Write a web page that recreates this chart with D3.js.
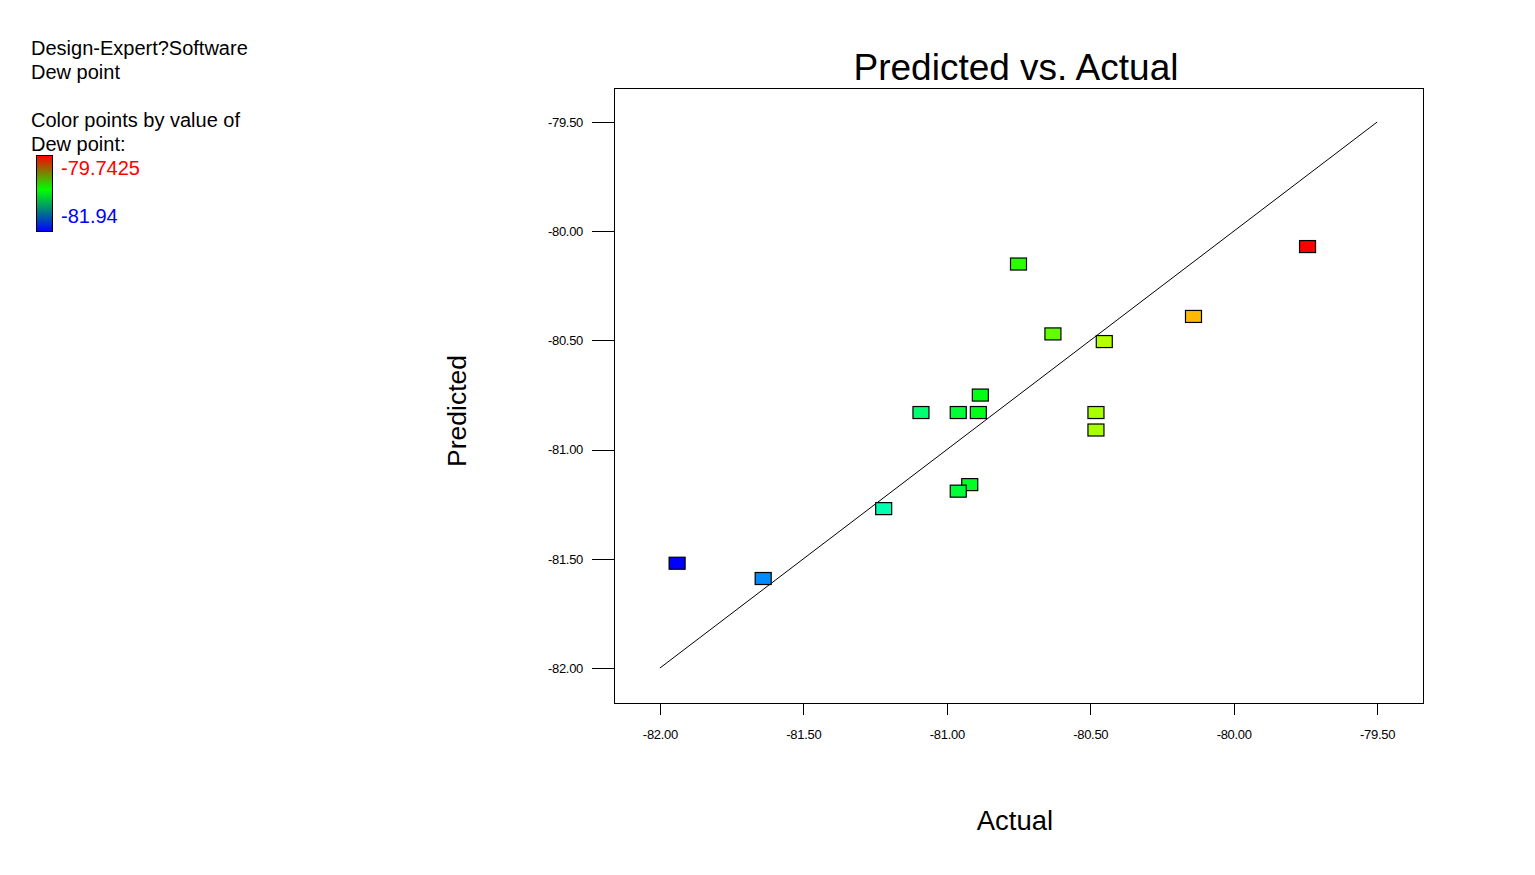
<!DOCTYPE html>
<html>
<head>
<meta charset="utf-8">
<script src="https://cdn.jsdelivr.net/npm/d3@7"></script>
<style>
  body { margin: 0; background: #fff; }
  svg { display: block; font-family: Arial, "Liberation Sans", sans-serif; }
</style>
</head>
<body>
<svg id="chart" width="1535" height="875"></svg>
<script>
const actualVals = [-81.94, -81.64, -81.22, -81.09, -80.96, -80.89, -80.883, -80.92, -80.96, -80.75, -80.63, -80.451, -80.48, -80.48, -80.14, -79.7425];
const predictedVals = [-81.52, -81.59, -81.27, -80.83, -80.83, -80.83, -80.75, -81.16, -81.19, -80.15, -80.47, -80.505, -80.83, -80.91, -80.39, -80.07];
const tickVals = [-82.0, -81.5, -81.0, -80.5, -80.0, -79.5];
const colorMin = -81.94, colorMax = -79.7425;
const legendLines = ["Design-Expert?Software", "Dew point", "", "Color points by value of", "Dew point:"];

const svg = d3.select("#chart");
const L = 614, R = 1423, T = 88, B = 703;
const x = d3.scaleLinear().domain([-82.16, -79.34]).range([L, R]);
const y = d3.scaleLinear().domain([-82.16, -79.344]).range([B, T]);
const fmt = d => d.toFixed(2);

const color = v => {
  const t = (v - colorMin) / (colorMax - colorMin);
  return d3.hsl(240 * (1 - t), 1, 0.5).formatHex();
};

// Title
svg.append("text").attr("x", 1016).attr("y", 80).attr("text-anchor", "middle")
  .attr("font-size", 37).text("Predicted vs. Actual");

// Frame
svg.append("rect").attr("x", L).attr("y", T).attr("width", R - L).attr("height", B - T)
  .attr("fill", "none").attr("stroke", "#000").attr("stroke-width", 1).attr("shape-rendering", "crispEdges");

// Axes
const xAxis = d3.axisBottom(x).tickValues(tickVals).tickFormat(fmt).tickSize(12).tickSizeOuter(0).tickPadding(15);
const gx = svg.append("g").attr("transform", `translate(0,${B})`).call(xAxis);
gx.select(".domain").remove();
gx.selectAll("text").attr("font-size", 13).attr("letter-spacing", -0.3).attr("font-family", "Arial, 'Liberation Sans', sans-serif").attr("fill", "#000");
gx.selectAll("line").attr("shape-rendering", "crispEdges");

const yAxis = d3.axisLeft(y).tickValues(tickVals).tickFormat(fmt).tickSize(22).tickSizeOuter(0).tickPadding(9);
const gy = svg.append("g").attr("transform", `translate(${L},0)`).call(yAxis);
gy.select(".domain").remove();
gy.selectAll("text").attr("font-size", 13).attr("letter-spacing", -0.3).attr("font-family", "Arial, 'Liberation Sans', sans-serif").attr("fill", "#000");
gy.selectAll("line").attr("shape-rendering", "crispEdges");

// Axis titles
svg.append("text").attr("x", 1015).attr("y", 830).attr("text-anchor", "middle")
  .attr("font-size", 27.5).text("Actual");
svg.append("text").attr("transform", "translate(466,411) rotate(-90)").attr("text-anchor", "middle")
  .attr("font-size", 26.5).text("Predicted");

// Identity line
svg.append("line").attr("x1", x(-82)).attr("y1", y(-82)).attr("x2", x(-79.5)).attr("y2", y(-79.5))
  .attr("stroke", "#000").attr("stroke-width", 1);

// Points
const pts = actualVals.map((a, i) => ({a, p: predictedVals[i]}));
svg.append("g").selectAll("rect").data(pts).join("rect")
  .attr("x", d => x(d.a) - 8).attr("y", d => y(d.p) - 6)
  .attr("width", 16).attr("height", 12)
  .attr("fill", d => color(d.a)).attr("stroke", "#000").attr("stroke-width", 1.2);

// Legend text
const lg = svg.append("g");
legendLines.forEach((s, i) => {
  if (s) lg.append("text").attr("x", 31).attr("y", 55 + i * 24).attr("font-size", 20).text(s);
});

// Gradient bar
const defs = svg.append("defs");
const grad = defs.append("linearGradient").attr("id", "lgGrad").attr("x1", 0).attr("y1", 0).attr("x2", 0).attr("y2", 1);
[["0%", "#ff0000"], ["45%", "#00ff00"], ["100%", "#0000ff"]].forEach(([o, c]) =>
  grad.append("stop").attr("offset", o).attr("stop-color", c));
svg.append("rect").attr("x", 36.5).attr("y", 155.5).attr("width", 16).attr("height", 76)
  .attr("fill", "url(#lgGrad)").attr("stroke", "#000").attr("stroke-width", 1);
svg.append("text").attr("x", 61).attr("y", 175).attr("font-size", 20).attr("fill", "#ff0000").text(String(colorMax));
svg.append("text").attr("x", 61).attr("y", 223).attr("font-size", 20).attr("fill", "#0000ff").text(String(colorMin));
</script>
</body>
</html>
